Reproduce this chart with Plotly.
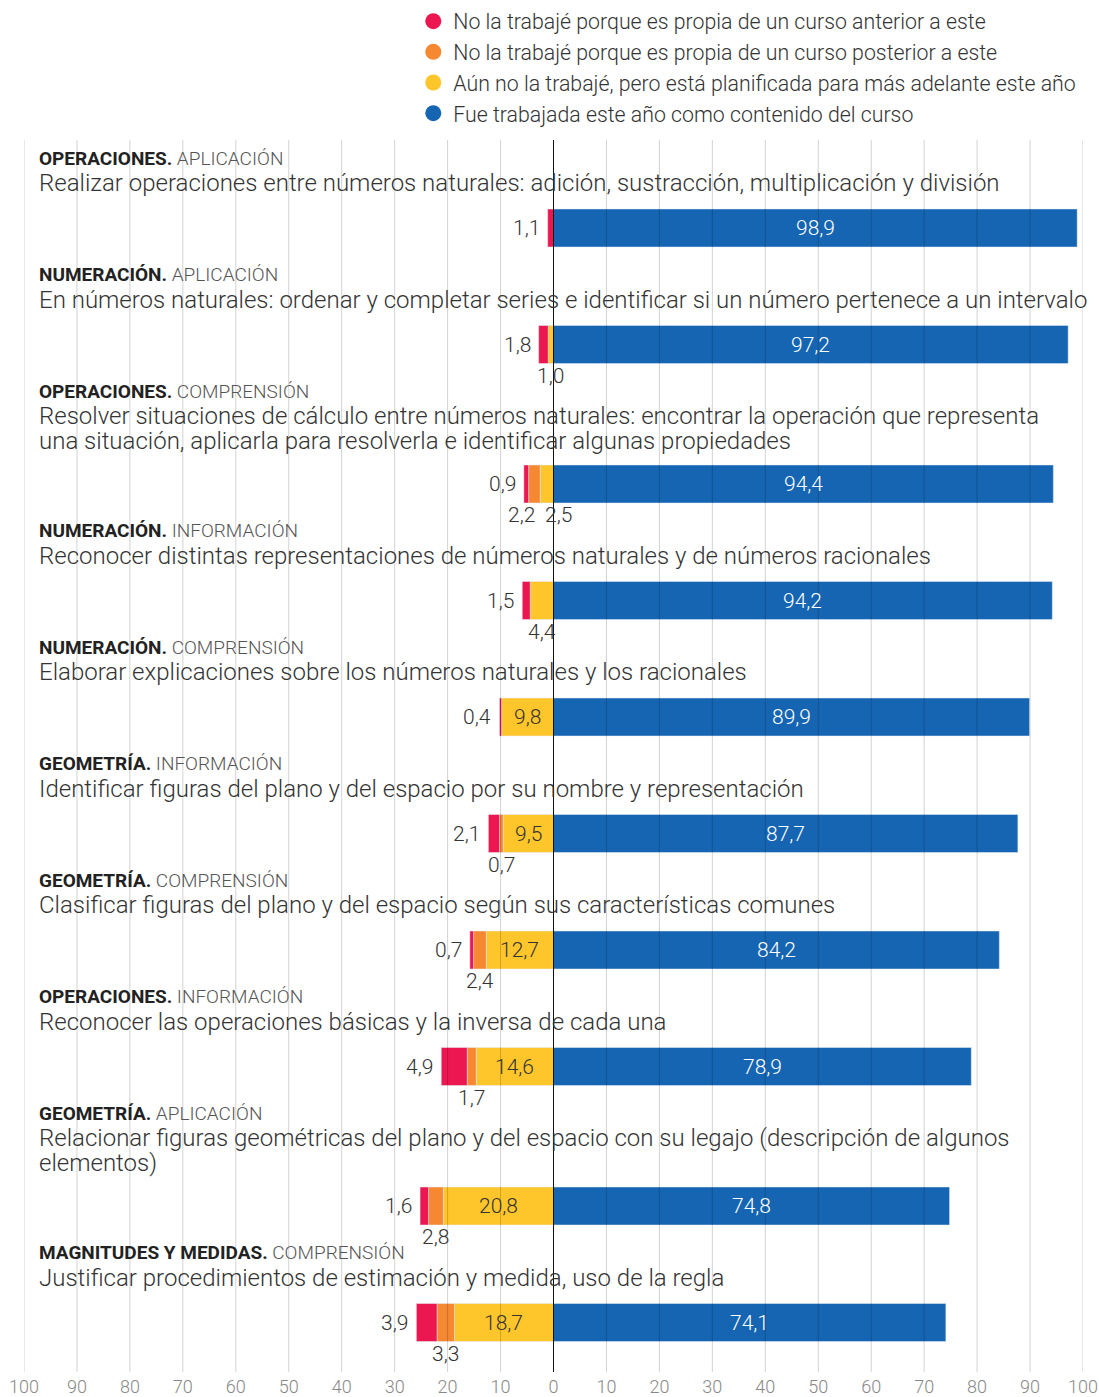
import plotly.graph_objects as go

# data
areas = ["OPERACIONES.", "NUMERACIÓN.", "OPERACIONES.", "NUMERACIÓN.", "NUMERACIÓN.",
         "GEOMETRÍA.", "GEOMETRÍA.", "OPERACIONES.", "GEOMETRÍA.", "MAGNITUDES Y MEDIDAS."]
levels = ["APLICACIÓN", "APLICACIÓN", "COMPRENSIÓN", "INFORMACIÓN", "COMPRENSIÓN",
          "INFORMACIÓN", "COMPRENSIÓN", "INFORMACIÓN", "APLICACIÓN", "COMPRENSIÓN"]
descriptions = [
    ["Realizar operaciones entre números naturales: adición, sustracción, multiplicación y división"],
    ["En números naturales: ordenar y completar series e identificar si un número pertenece a un intervalo"],
    ["Resolver situaciones de cálculo entre números naturales: encontrar la operación que representa",
     "una situación, aplicarla para resolverla e identificar algunas propiedades"],
    ["Reconocer distintas representaciones de números naturales y de números racionales"],
    ["Elaborar explicaciones sobre los números naturales y los racionales"],
    ["Identificar figuras del plano y del espacio por su nombre y representación"],
    ["Clasificar figuras del plano y del espacio según sus características comunes"],
    ["Reconocer las operaciones básicas y la inversa de cada una"],
    ["Relacionar figuras geométricas del plano y del espacio con su legajo (descripción de algunos",
     "elementos)"],
    ["Justificar procedimientos de estimación y medida, uso de la regla"],
]
anterior = [1.1, 1.8, 0.9, 1.5, 0.4, 2.1, 0.7, 4.9, 1.6, 3.9]
posterior = [0, 0, 2.2, 0, 0, 0.7, 2.4, 1.7, 2.8, 3.3]
planificada = [0, 1.0, 2.5, 4.4, 9.8, 9.5, 12.7, 14.6, 20.8, 18.7]
trabajada = [98.9, 97.2, 94.4, 94.2, 89.9, 87.7, 84.2, 78.9, 74.8, 74.1]

legend_names = ["No la trabajé porque es propia de un curso anterior a este",
                "No la trabajé porque es propia de un curso posterior a este",
                "Aún no la trabajé, pero está planificada para más adelante este año",
                "Fue trabajada este año como contenido del curso"]

RED, ORANGE, YELLOW, BLUE = "#EC1650", "#F68832", "#FEC62B", "#1565B2"
FONT = "Roboto"

def fmt(v):
    return f"{v:.1f}".replace(".", ",")

# vertical positions of rows (pixel-like units on a reversed axis)
ys = []
y = 228
for i, d in enumerate(descriptions):
    if i > 0:
        y += 116.5 + 23 * (len(d) - 1)
    ys.append(y)

fig = go.Figure()
neg = lambda a: [-v for v in a]
fig.add_trace(go.Bar(y=ys, x=neg(planificada), orientation="h", marker_color=YELLOW, width=38, showlegend=False))
fig.add_trace(go.Bar(y=ys, x=neg(posterior), orientation="h", marker_color=ORANGE, width=38, showlegend=False))
fig.add_trace(go.Bar(y=ys, x=neg(anterior), orientation="h", marker_color=RED, width=38, showlegend=False))
fig.add_trace(go.Bar(y=ys, x=trabajada, orientation="h", marker_color=BLUE, width=38, showlegend=False))

for name, c in zip(legend_names, [RED, ORANGE, YELLOW, BLUE]):
    fig.add_trace(go.Scatter(x=[None], y=[None], mode="markers", name=name,
                             marker=dict(color=c, size=16, symbol="circle")))

ann = []
for i in range(len(ys)):
    yb = ys[i]
    nl = len(descriptions[i])
    top = yb - 70 - 23 * (nl - 1)
    ann.append(dict(x=0.0123, xref="paper", y=top, yref="y", xanchor="left", yanchor="middle",
                    text=f"<b style='color:#222'>{areas[i]}</b> {levels[i]}", showarrow=False,
                    font=dict(family=FONT, size=19, color="#555", weight=300)))
    for k, line in enumerate(descriptions[i]):
        ann.append(dict(x=0.0123, xref="paper", y=top + 25 + 24.5 * k, yref="y", xanchor="left",
                        yanchor="middle", text=line, showarrow=False,
                        font=dict(family=FONT, size=24, color="#333", weight=300)))
    r, o, yl, b = anterior[i], posterior[i], planificada[i], trabajada[i]
    lab = dict(family=FONT, size=21, color="#333", weight=300)
    # blue inside
    ann.append(dict(x=b / 2, y=yb, xref="x", yref="y", text=fmt(b), showarrow=False,
                    font=dict(family=FONT, size=21, color="white", weight=300)))
    # red to the left
    ann.append(dict(x=-(r + o + yl), y=yb, xref="x", yref="y", text=fmt(r), showarrow=False,
                    xanchor="right", xshift=-6, font=lab))
    if yl >= 9:
        ann.append(dict(x=-yl / 2, y=yb, xref="x", yref="y", text=fmt(yl), showarrow=False, font=lab))
    both = o > 0 and 0 < yl < 9
    if o > 0:
        if both:
            ann.append(dict(x=-yl, y=yb + 31, xref="x", yref="y", text=fmt(o), showarrow=False,
                            xanchor="right", xshift=-3, font=lab))
        else:
            ann.append(dict(x=-(yl + o / 2), y=yb + 31, xref="x", yref="y", text=fmt(o),
                            showarrow=False, font=lab))
    if 0 < yl < 9:
        if both:
            ann.append(dict(x=-yl, y=yb + 31, xref="x", yref="y", text=fmt(yl), showarrow=False,
                            xanchor="left", xshift=3, font=lab))
        else:
            ann.append(dict(x=-yl / 2, y=yb + 31, xref="x", yref="y", text=fmt(yl),
                            showarrow=False, font=lab))

ticks = list(range(-100, 101, 10))
shapes = [dict(type="line", x0=t, x1=t, y0=0, y1=1, xref="x", yref="paper", layer="above",
               line=dict(color="rgba(0,0,0,0.18)", width=1)) for t in ticks if t != 0]
shapes.append(dict(type="line", x0=0, x1=0, y0=0, y1=1, xref="x", yref="paper", layer="above",
                   line=dict(color="#111", width=1)))

fig.update_layout(
    width=1099, height=1397,
    margin=dict(l=24, r=16, t=140, b=25, autoexpand=False),
    barmode="relative",
    plot_bgcolor="white", paper_bgcolor="white",
    font=dict(family=FONT, weight=300),
    xaxis=dict(range=[-100, 100], tickvals=ticks, ticktext=[str(abs(t)) for t in ticks],
               showgrid=False, zeroline=False, ticks="", ticklabelstandoff=2, automargin=False,
               tickfont=dict(family=FONT, size=18, color="#888", weight=300)),
    yaxis=dict(range=[1372, 140], visible=False, showgrid=False, zeroline=False),
    annotations=ann,
    shapes=shapes,
    legend=dict(x=0.3676, xanchor="left", y=1.113, yanchor="top", bgcolor="rgba(0,0,0,0)",
                font=dict(family=FONT, size=21.3, color="#333", weight=300),
                itemwidth=30, tracegroupgap=0),
)

# drop the default 8px body margin so the figure fills the window
fig.write_html("out.html", config={"displayModeBar": False},
               post_script="document.body.style.margin='0';")
